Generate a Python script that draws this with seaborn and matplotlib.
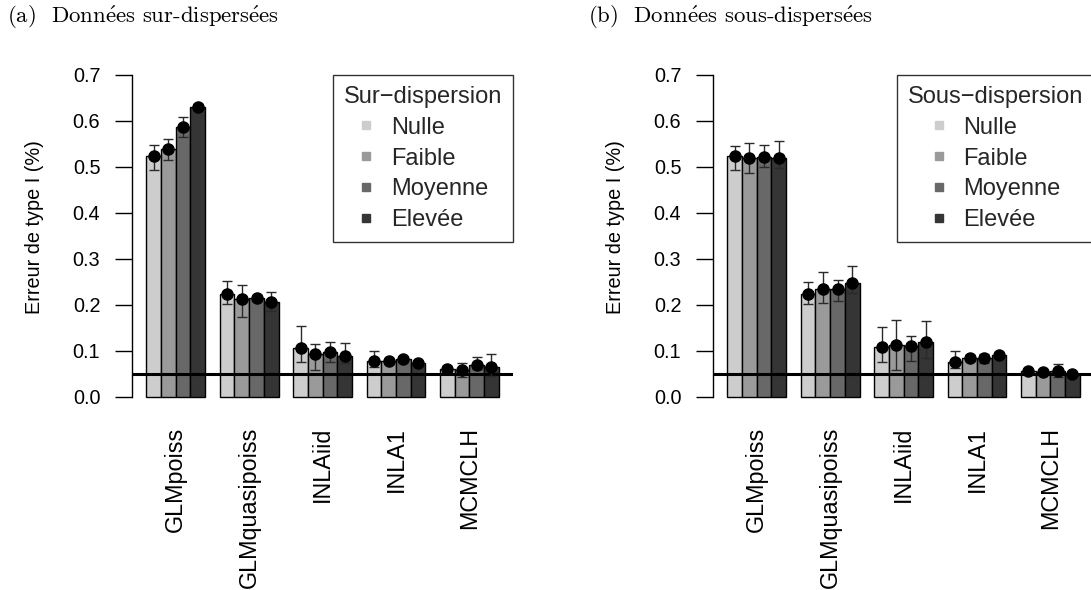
import numpy as np
import pandas as pd
import matplotlib
matplotlib.use("Agg")
import matplotlib.pyplot as plt
import seaborn as sns
from matplotlib.lines import Line2D

# ---- data ---------------------------------------------------------------
methods = ["GLMpoiss", "GLMquasipoiss", "INLAiid", "INLA1", "MCMCLH"]
levels = ["Nulle", "Faible", "Moyenne", "Elevée"]
greys = ["#CDCDCD", "#9A9A9A", "#686868", "#353535"]

# over-dispersed data: rows = methods, columns = dispersion levels
sur_rate = [[0.524, 0.540, 0.586, 0.631],
            [0.223, 0.212, 0.215, 0.206],
            [0.107, 0.094, 0.098, 0.089],
            [0.077, 0.077, 0.081, 0.073],
            [0.060, 0.058, 0.070, 0.064]]
sur_low = [[0.493, 0.516, 0.566, 0.626],
           [0.202, 0.173, 0.208, 0.186],
           [0.076, 0.058, 0.076, 0.074],
           [0.065, 0.072, 0.076, 0.069],
           [0.054, 0.044, 0.060, 0.045]]
sur_high = [[0.547, 0.560, 0.608, 0.636],
            [0.251, 0.242, 0.222, 0.228],
            [0.153, 0.115, 0.118, 0.117],
            [0.100, 0.082, 0.086, 0.077],
            [0.066, 0.073, 0.086, 0.094]]

# under-dispersed data
sous_rate = [[0.524, 0.520, 0.522, 0.519],
             [0.223, 0.234, 0.234, 0.248],
             [0.108, 0.113, 0.110, 0.118],
             [0.076, 0.085, 0.084, 0.091],
             [0.056, 0.054, 0.055, 0.049]]
sous_low = [[0.493, 0.487, 0.499, 0.497],
            [0.201, 0.204, 0.208, 0.225],
            [0.076, 0.059, 0.078, 0.085],
            [0.062, 0.078, 0.073, 0.085],
            [0.052, 0.050, 0.044, 0.046]]
sous_high = [[0.546, 0.551, 0.548, 0.556],
             [0.250, 0.271, 0.255, 0.285],
             [0.152, 0.168, 0.132, 0.164],
             [0.100, 0.090, 0.093, 0.097],
             [0.060, 0.058, 0.071, 0.052]]

nominal_level = 0.05
yticks = [0.0, 0.1, 0.2, 0.3, 0.4, 0.5, 0.6, 0.7]

# ---- style --------------------------------------------------------------
sns.set_theme(style="white")
plt.rcParams["font.family"] = ["Liberation Sans", "DejaVu Sans"]
plt.rcParams["mathtext.fontset"] = "cm"

fig = plt.figure(figsize=(10.91, 5.90), dpi=100)
W, H = 1091, 590


def axes_px(left, right, top, bottom):
    return fig.add_axes([left / W, 1 - bottom / H, (right - left) / W, (bottom - top) / H])


ax_a = axes_px(132.3, 512.9, 62.1, 409.6)
ax_b = axes_px(713.3, 1093.9, 62.1, 409.6)


def panel(ax, rate, low, high, legend_title):
    df = pd.DataFrame(
        [(m, lv, rate[i][j]) for i, m in enumerate(methods) for j, lv in enumerate(levels)],
        columns=["method", "level", "rate"],
    )
    sns.barplot(data=df, x="method", y="rate", hue="level", order=methods,
                hue_order=levels, palette=greys, saturation=1, errorbar=None,
                edgecolor="black", linewidth=1.0, width=0.8, gap=0,
                legend=False, ax=ax, zorder=2)
    bar_groups = list(ax.containers)

    ax.axhline(nominal_level, color="black", lw=2.2, zorder=3)

    # error bars and point estimates at the bar centres
    for j, cont in enumerate(bar_groups):
        xs = np.array([p.get_x() + p.get_width() / 2 for p in cont.patches])
        y = np.array([rate[i][j] for i in range(len(methods))])
        lo = np.array([low[i][j] for i in range(len(methods))])
        hi = np.array([high[i][j] for i in range(len(methods))])
        ax.errorbar(xs, y, yerr=[y - lo, hi - y], fmt="none", ecolor="#2a2a2a",
                    elinewidth=1.0, capsize=3.5, capthick=1.0, zorder=4)
        ax.plot(xs, y, "o", color="black", ms=8, zorder=5)

    ax.set_xlim(-0.592, 4.592)
    ax.set_ylim(-0.028, 0.728)
    for s in ("top", "right", "bottom"):
        ax.spines[s].set_visible(False)
    ax.spines["left"].set_bounds(0, 0.7)
    ax.spines["left"].set_color("black")
    ax.spines["left"].set_linewidth(1.0)

    ax.set_yticks(yticks)
    ax.set_yticklabels([f"{t:.1f}" for t in yticks])
    ax.tick_params(axis="y", left=True, length=12, width=1.0, color="black",
                   pad=11, labelsize=14.3, labelcolor="black")
    ax.tick_params(axis="x", bottom=False, length=0, pad=12.3, labelsize=16.8,
                   labelcolor="black", labelrotation=90)
    ax.set_xlabel("")
    ax.set_ylabel("Erreur de type I (%)", fontsize=14.3, color="black")
    ax.yaxis.set_label_coords(-0.232, 0.526)

    handles = [Line2D([], [], marker="s", ls="none", color=g, ms=6) for g in greys]
    leg = ax.legend(handles, levels, title=legend_title, loc="upper right",
                    bbox_to_anchor=(1.0, 0.963), fontsize=17, title_fontsize=17,
                    frameon=True, fancybox=False, framealpha=1, edgecolor="#333333",
                    alignment="center", labelspacing=0.38, handlelength=0.7,
                    handletextpad=0.7, borderpad=0.45, borderaxespad=0)
    leg.get_frame().set_linewidth(1.0)
    leg.set_zorder(6)


panel(ax_a, sur_rate, sur_low, sur_high, "Sur\u2212dispersion")
panel(ax_b, sous_rate, sous_low, sous_high, "Sous\u2212dispersion")

title_font = dict(family="cmr10", fontsize=16.4, color="black",
                  va="center", ha="left")
fig.text(7 / W, 1 - 17 / H,
         r"(a)  Donn$\mathrm{\acute{e}}$es sur-dispers$\mathrm{\acute{e}}$es", **title_font)
fig.text(588 / W, 1 - 17 / H,
         r"(b)  Donn$\mathrm{\acute{e}}$es sous-dispers$\mathrm{\acute{e}}$es", **title_font)

fig.savefig("out.png", dpi=100)
